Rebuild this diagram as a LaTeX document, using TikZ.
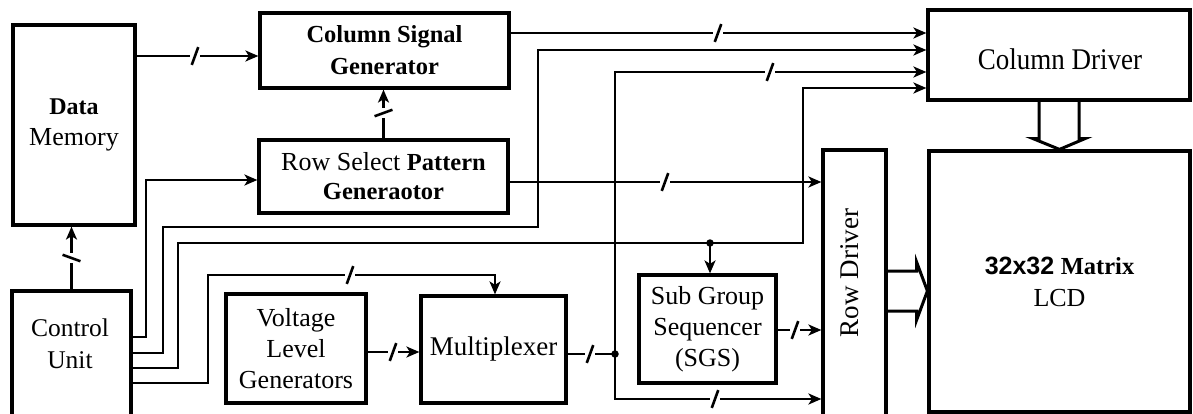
\documentclass[tikz,border=0pt]{standalone}
\usepackage{fontspec}
\setmainfont{Liberation Serif}
\newfontfamily\arialfont{Liberation Sans}
\usetikzlibrary{arrows.meta,calc}
\newcommand\busmk[1]{\rotatebox{#1}{\rule{19pt}{2.6pt}}}
\begin{document}
\begin{tikzpicture}[x=1pt,y=-1pt,
  blk/.style={draw, line width=3.2pt, inner sep=0pt, align=center, font=\fontsize{26}{31}\selectfont},
  txt/.style={inner sep=0pt, align=center, font=\fontsize{26}{31}\selectfont},
  con/.style={line width=2.8pt},
  arr/.style={con, -{Stealth[length=13pt,width=11pt,inset=3.5pt]}},
  bus/.style={fill=white, inner sep=1pt},
  hollow/.style={line width=3pt, line join=miter},
  dot/.style={circle, fill, inner sep=0pt, minimum size=7.5pt}]
\useasboundingbox (0,0) rectangle (1193,414);

% blocks
\node[blk, minimum width=122pt, minimum height=200pt] (dm) at (74,125)
  {{\fontsize{24}{31}\selectfont\bfseries Data}\\Memory};
\node[blk, minimum width=249pt, minimum height=75pt, font=\fontsize{24.5}{32}\selectfont\bfseries] (csg) at (384.5,50.5)
  {Column Signal\\Generator};
\node[blk, minimum width=249pt, minimum height=73pt, font=\fontsize{26}{29}\selectfont] (rs) at (383.5,176.5)
  {Row Select {\fontsize{24.5}{29}\selectfont\bfseries Pattern}\\{\fontsize{24.5}{29}\selectfont\bfseries Generaotor}};
\node[blk, minimum width=262pt, minimum height=90pt] (cd) at (1059,55) {};
\node[txt] (cdt) at (1060,59) {\scalebox{0.9}[1]{\fontsize{30}{36}\selectfont Column Driver}};
\node[blk, minimum width=63pt, minimum height=270pt] (rd) at (854.5,285) {};
\node[txt, rotate=90, font=\fontsize{27}{31}\selectfont] (rdt) at (850,273) {Row Driver};
\node[blk, minimum width=261pt, minimum height=261pt, font=\fontsize{26}{32}\selectfont] (lcd) at (1059.5,281.5)
  {{\arialfont\bfseries\fontsize{25}{32}\selectfont 32x32} {\bfseries\fontsize{24.5}{32}\selectfont Matrix}\\LCD};
\node[blk, minimum width=119pt, minimum height=129pt] (cu) at (71.5,355.5) {};
\node[txt, font=\fontsize{25.5}{32}\selectfont] (cut) at (70,344) {Control\\Unit};
\node[blk, minimum width=140pt, minimum height=109pt] (vlg) at (296,348.5) {Voltage\\Level\\Generators};
\node[blk, minimum width=145pt, minimum height=107pt] (mux) at (493.5,349.5) {\fontsize{27}{31}\selectfont Multiplexer};
\node[blk, minimum width=137pt, minimum height=108pt] (sgs) at (707.5,329) {Sub Group\\Sequencer\\(SGS)};

% route coordinates
\coordinate (k1) at (146,337);
\coordinate (j1) at (146,180);
\coordinate (k2) at (163,353);
\coordinate (k3) at (538,227);
\coordinate (k4) at (538,50);
\coordinate (k5) at (178,368);
\coordinate (k6) at (803,243);
\coordinate (k7) at (803,88);
\coordinate (j2) at (710,243);
\coordinate (k8) at (208,383);
\coordinate (k9) at (495,275);
\coordinate (k10) at (0,56);
\coordinate (k11) at (0,33);
\coordinate (k12) at (0,182);
\coordinate (k13) at (0,352);
\coordinate (j3) at (615,354);
\coordinate (k14) at (615,72);
\coordinate (k15) at (615,399);
\coordinate (k16) at (0,330);

% connectors
\draw[arr] (cu.east |- k1) -- (k1) -- (j1) -- (rs.west |- j1);
\draw[arr] (cu.east |- k2) -- (k2) |- (k3) -- (k4) -- (cd.west |- k4);
\draw[arr] (cu.east |- k5) -- (k5) |- (k6) -- (k7) -- (cd.west |- k7);
\draw[arr] (j2) -- (j2 |- sgs.north);
\draw[arr] (cu.east |- k8) -- (k8) |- (k9) -- (k9 |- mux.north);
\draw[arr] (dm.east |- k10) -- (csg.west |- k10);
\draw[arr] (rs.north) -- (rs.north |- csg.south);
\draw[arr] (csg.east |- k11) -- (cd.west |- k11);
\draw[arr] (rs.east |- k12) -- (rd.west |- k12);
\draw[arr] (vlg.east |- k13) -- (mux.west |- k13);
\draw[con] (mux.east |- j3) -- (j3);
\draw[arr] (j3) -- (k14) -- (cd.west |- k14);
\draw[arr] (j3) -- (k15) -- (rd.west |- k15);
\draw[arr] (sgs.east |- k16) -- (rd.west |- k16);
\draw[arr] (cu.north) -- (cu.north |- dm.south);
\node[dot] (d2) at (j2) {};
\node[dot] (d3) at (j3) {};

% bus marks
\node[bus] (s1) at (195,56) {\busmk{70}};
\node[bus] (s2) at (383.5,113) {\busmk{20}};
\node[bus] (s3) at (718,33) {\busmk{70}};
\node[bus] (s6) at (350,275) {\busmk{70}};
\node[bus] (s7) at (665,182) {\busmk{70}};
\node[bus] (s8) at (393,352) {\busmk{70}};
\node[bus] (s9) at (590,354) {\busmk{70}};
\node[bus] (s10) at (770,72) {\busmk{70}};
\node[bus] (s11) at (715,399) {\busmk{70}};
\node[bus] (s12) at (795,330) {\busmk{70}};
\node[bus] (s13) at (71.5,258) {\busmk{-20}};

% hollow arrows
\coordinate (cdb) at (cd.south);
\draw[hollow] ($(cdb)+(-20,0)$) -- ++(0,37) -- ++(-6,0) -- (lcd.north)
  -- ($(cdb)+(26,37)$) -- ++(-6,0) -- ++(0,-37);
\coordinate (hy) at (0,291);
\coordinate (rdh) at (rd.east |- hy);
\draw[hollow] ($(rdh)+(0,-20)$) -- ++(29,0) -- ++(0,-9) -- (lcd.west |- hy)
  -- ($(rdh)+(29,29)$) -- ++(0,-9) -- ++(-29,0);
\end{tikzpicture}
\end{document}
